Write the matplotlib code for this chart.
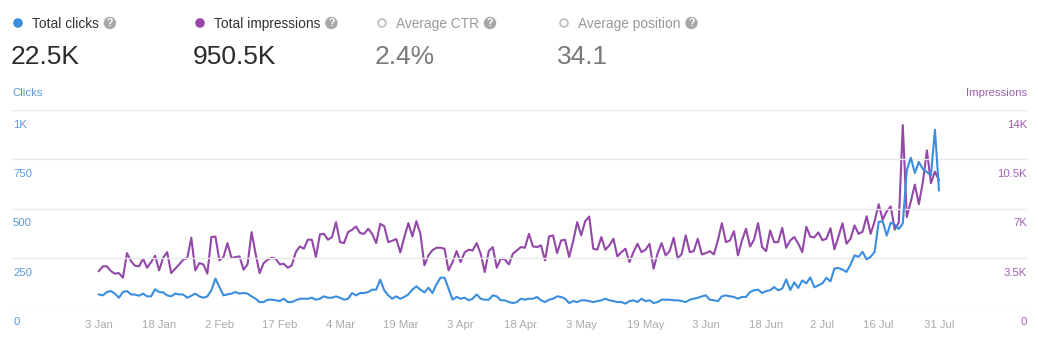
import matplotlib
matplotlib.use("Agg")
import matplotlib.pyplot as plt
from matplotlib.patches import Circle
import matplotlib.transforms as mtransforms
import pandas as pd

plt.rcParams["font.family"] = ["Liberation Sans", "DejaVu Sans"]

# daily search console numbers, 3 Jan .. 31 Jul
start_date = "2023-01-03"
clicks = [
    64, 59, 76, 81, 68, 47, 76, 81, 64, 63, 57, 68, 54, 54, 90, 76, 74, 59, 54, 68,
    64, 63, 47, 57, 68, 54, 47, 54, 85, 144, 101, 59, 64, 68, 76, 68, 71, 68, 54, 42,
    25, 25, 37, 37, 34, 30, 42, 25, 25, 34, 42, 42, 42, 47, 37, 42, 54, 47, 47, 54,
    47, 37, 42, 71, 59, 71, 71, 76, 88, 88, 139, 85, 59, 42, 54, 42, 51, 64, 88, 105,
    88, 74, 98, 71, 115, 149, 149, 93, 37, 51, 42, 47, 34, 42, 64, 42, 37, 37, 59, 54,
    34, 34, 25, 20, 25, 42, 37, 42, 42, 51, 34, 25, 37, 42, 54, 51, 42, 20, 30, 25,
    34, 34, 30, 25, 30, 34, 42, 34, 30, 25, 25, 17, 30, 34, 25, 42, 30, 34, 20, 25,
    37, 37, 37, 34, 34, 30, 25, 37, 42, 47, 54, 59, 37, 34, 30, 54, 59, 54, 51, 42,
    51, 51, 76, 85, 88, 71, 81, 85, 101, 85, 93, 140, 86, 125, 97, 135, 120, 150, 100, 110,
    120, 148, 130, 195, 198, 190, 178, 215, 262, 255, 280, 242, 255, 280, 432, 435, 362, 428, 418, 396,
    424, 695, 758, 680, 736, 700, 685, 668, 900, 592,
]
impressions = [
    2550, 2890, 2890, 2550, 2370, 2410, 2080, 3830, 3260, 2930, 2890, 3430, 2790, 3190, 3640, 2600, 3500, 3900, 2410, 2720,
    3030, 3360, 3480, 4920, 2600, 3120, 3030, 2370, 4970, 5010, 3310, 3550, 4540, 3480, 3550, 3600, 2650, 3030, 5320, 3780,
    2410, 3120, 3360, 3500, 3430, 3030, 3070, 2790, 2960, 3900, 4300, 4140, 4780, 4780, 3550, 5160, 5200, 4780, 4970, 6030,
    4610, 4540, 5320, 5490, 5720, 5250, 5200, 5560, 5200, 4540, 5910, 5750, 4610, 4710, 4830, 3880, 4970, 5960, 5010, 6100,
    5200, 2960, 3670, 4040, 4210, 4210, 4140, 2600, 3190, 3970, 3190, 3880, 4070, 4020, 4540, 3780, 2480, 3970, 4260, 2790,
    3430, 3380, 3030, 3780, 4020, 4260, 4210, 5200, 4300, 4260, 4380, 3310, 5010, 5090, 3830, 4730, 4780, 3550, 4680, 6030,
    5090, 6100, 6430, 4140, 4070, 4970, 4070, 4380, 4850, 3600, 3900, 4140, 3190, 3900, 4490, 3900, 4070, 4490, 2720, 3800,
    4540, 3670, 3970, 4920, 3430, 3780, 5090, 3900, 3970, 4850, 3740, 3830, 3970, 3740, 4730, 5960, 4610, 4730, 5390, 3670,
    4730, 5560, 4300, 4780, 5960, 4260, 3970, 5440, 4610, 4610, 5630, 4210, 4730, 4970, 4500, 3900, 5700, 5000, 4950, 5300,
    4750, 4850, 5600, 4100, 5000, 5950, 4500, 4850, 5800, 5200, 5350, 6450, 5200, 6100, 7300, 6200, 6800, 7150, 5500, 6000,
    12930, 6400, 7500, 8700, 7300, 8900, 11130, 8800, 9620, 9000,
]
tick_dates = ["2023-01-03", "2023-01-18", "2023-02-02", "2023-02-17", "2023-03-04",
              "2023-03-19", "2023-04-03", "2023-04-18", "2023-05-03", "2023-05-19",
              "2023-06-03", "2023-06-18", "2023-07-02", "2023-07-16", "2023-07-31"]
tick_labels = ["3 Jan", "18 Jan", "2 Feb", "17 Feb", "4 Mar", "19 Mar", "3 Apr", "18 Apr",
               "3 May", "19 May", "3 Jun", "18 Jun", "2 Jul", "16 Jul", "31 Jul"]
clicks_ticks = [0, 250, 500, 750, 1000]
clicks_tick_labels = ["0", "250", "500", "750", "1K"]
impr_ticks = [0, 3500, 7000, 10500, 14000]
impr_tick_labels = ["0", "3.5K", "7K", "10.5K", "14K"]

# summary cards: label, value, dot colour (None = hollow)
cards = [
    ("Total clicks", "22.5K", "#3b8ddd"),
    ("Total impressions", "950.5K", "#9347a8"),
    ("Average CTR", "2.4%", None),
    ("Average position", "34.1", None),
]

BLUE = "#3b8ddd"
PURPLE = "#9347a8"
W, H = 1038, 346

dates = pd.date_range(start_date, periods=len(clicks), freq="D")

fig = plt.figure(figsize=(W / 100, H / 100), dpi=100)

# header strip drawn in pixel coordinates
hdr = fig.add_axes([0, 0, 1, 1])
hdr.set_xlim(0, W)
hdr.set_ylim(H, 0)
hdr.axis("off")

card_x = [12, 194, 376, 558]
for x0, (label, value, color) in zip(card_x, cards):
    if color:
        hdr.add_patch(Circle((x0 + 6, 23), 4.8, fc=color, ec="none"))
        lab_col, val_col = "#333333", "#2b2b2b"
    else:
        hdr.add_patch(Circle((x0 + 6, 23), 3.9, fc="white", ec="#c4c4c4", lw=1.4))
        lab_col, val_col = "#999999", "#7a7a7a"
    t = hdr.text(x0 + 20, 27.8, label, fontsize=9.9, color=lab_col, va="baseline")
    fig.canvas.draw()
    bb = t.get_window_extent()
    qx = bb.x1 + 11
    hdr.add_patch(Circle((qx, 23), 6.2, fc="#a8a8a8", ec="none"))
    hdr.text(qx, 23.4, "?", fontsize=7.5, color="white", fontweight="bold",
             ha="center", va="center")
    hdr.text(x0 - 1, 63.5, value, fontsize=19, color=val_col, va="baseline")

# chart area
ax_left, ax_right, ax_top, ax_bottom = 12, 1027, 110, 307
ax = fig.add_axes([ax_left / W, 1 - ax_bottom / H, (ax_right - ax_left) / W,
                   (ax_bottom - ax_top) / H])
ax2 = ax.twinx()

ax.plot(dates, clicks, color=BLUE, lw=1.5, zorder=3, solid_joinstyle="round")
ax2.plot(dates, impressions, color=PURPLE, lw=1.5, zorder=3, solid_joinstyle="round")

ax.set_ylim(0, 1000)
ax2.set_ylim(0, 14000)
ax.set_xlim(dates[0] - pd.Timedelta(days=21.6), dates[-1] + pd.Timedelta(days=21.9))

ax.set_yticks(clicks_ticks)
ax.set_yticklabels([])
ax2.set_yticks([])
ax.grid(axis="y", color="#e8e8e8", lw=1)
ax.set_axisbelow(True)
ax.set_zorder(ax2.get_zorder() + 1)
ax.patch.set_visible(False)

for a in (ax, ax2):
    for s in a.spines.values():
        s.set_visible(False)
ax.tick_params(axis="y", length=0)
ax2.tick_params(axis="y", length=0)

ax.set_xticks(pd.to_datetime(tick_dates))
ax.set_xticklabels(tick_labels)
ax.tick_params(axis="x", length=0, pad=9, labelsize=8.2, labelcolor="#aaaaaa")

# value labels sit just under each gridline
left_tr = mtransforms.offset_copy(
    mtransforms.blended_transform_factory(ax.transAxes, ax.transData),
    fig=fig, x=1, y=-15, units="dots")
for v, lab in zip(clicks_ticks, clicks_tick_labels):
    ax.text(0, v, lab, transform=left_tr, fontsize=8.2, color="#5a9ad8",
            ha="left", va="center")
right_tr = mtransforms.offset_copy(
    mtransforms.blended_transform_factory(ax2.transAxes, ax2.transData),
    fig=fig, x=0, y=-15, units="dots")
for v, lab in zip(impr_ticks, impr_tick_labels):
    ax2.text(1, v, lab, transform=right_tr, fontsize=8.2, color="#a060b0",
             ha="right", va="center")

hdr.text(12, 93, "Clicks", fontsize=8.2, color="#5a9ad8", va="center")
hdr.text(1027, 93, "Impressions", fontsize=8.2, color="#a060b0", va="center", ha="right")

fig.savefig("out.png", dpi=100)
